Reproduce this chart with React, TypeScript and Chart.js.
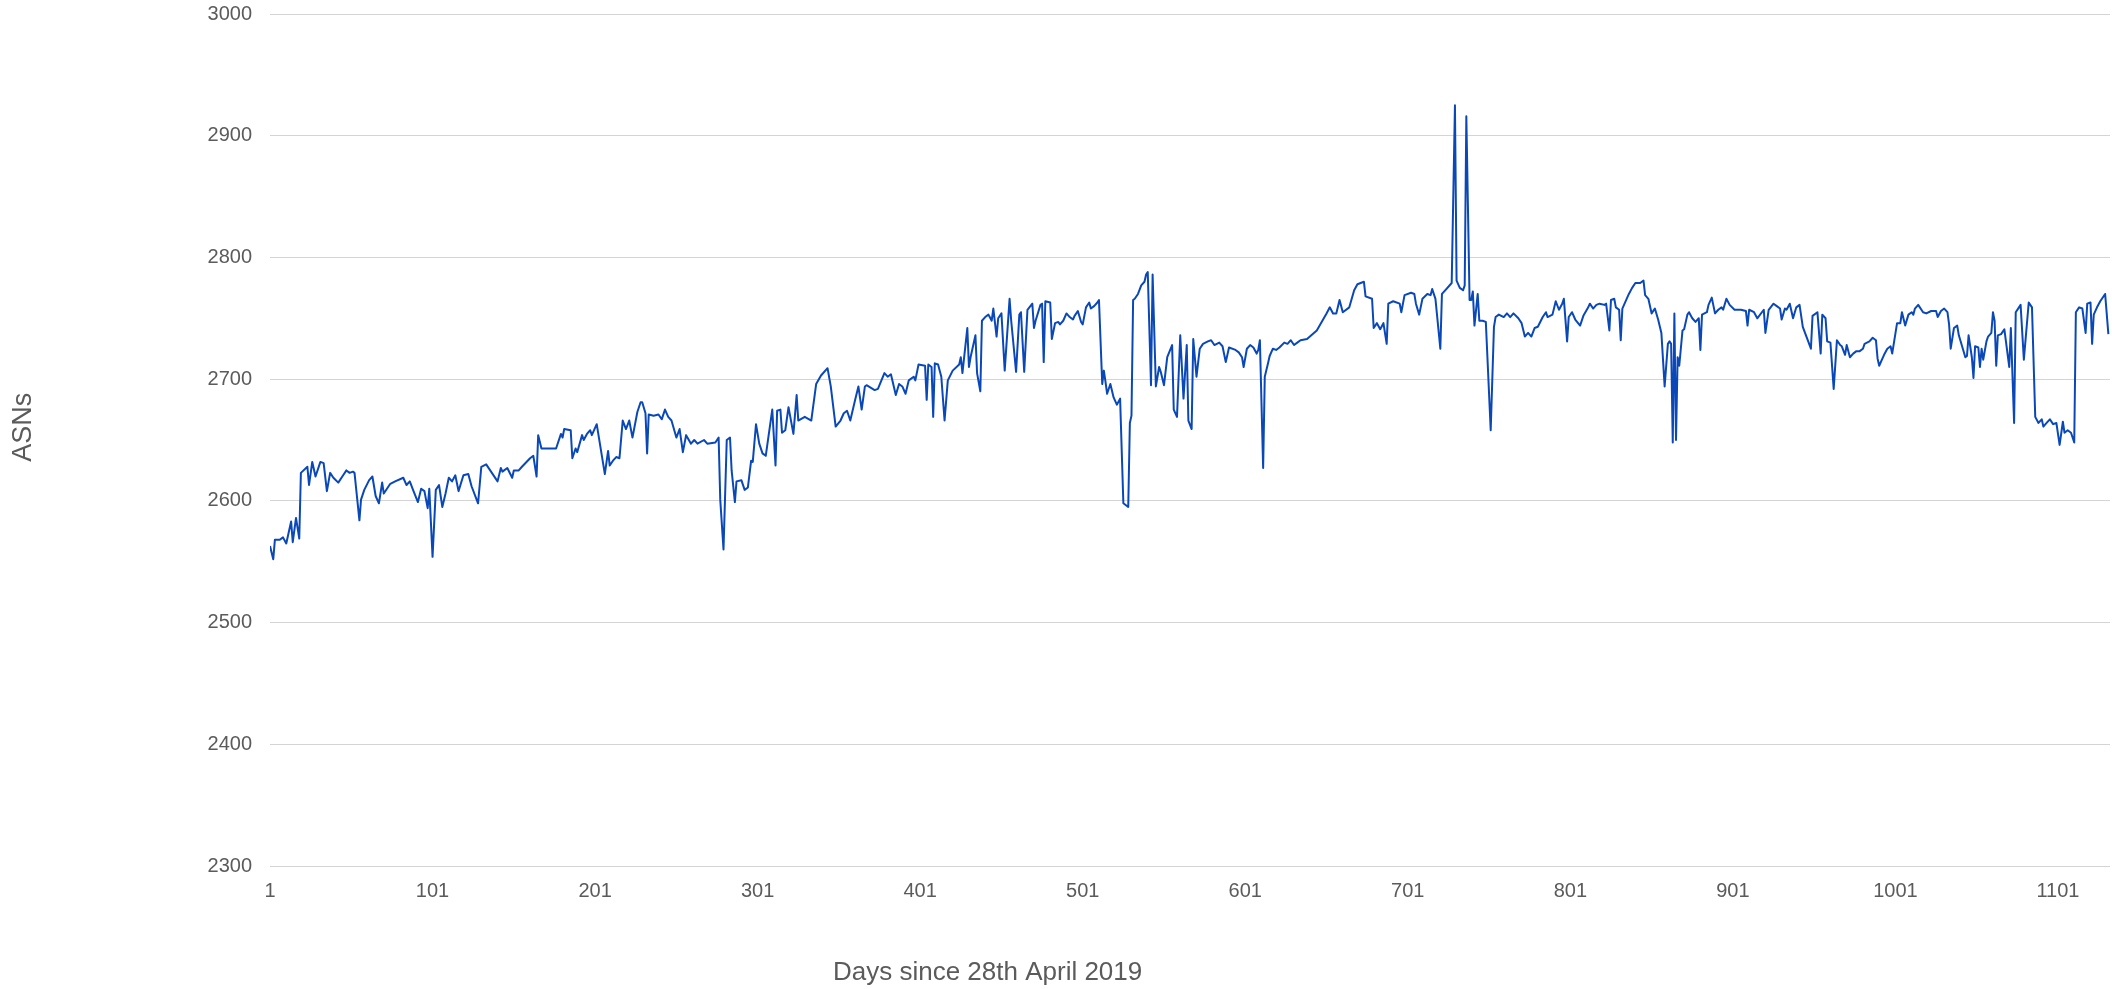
import { useEffect, useRef } from "react";
import { Chart, registerables } from "chart.js";

Chart.register(...registerables);

// ---- Data (day number, ASN count; null = gap) ----
const daysA = [1,3,4,7,9,11,14,15,17,19, 20,24,25,27,29,32,34,36,38,40, 43,46,48,50,52,53,56,57,59,62, 64,66,68,70,71,75,78,80,83,85, 87,89,92,94,96,98,99,101,103,105, 107,109,111,113,115,117,120,123,125,129, 131,134,137,141,143,144,147,150,151,154, 156,159,161];
const asnsA = [2563,2552,2568,2568,2570,2565,2583,2566,2586,2569, 2623,2628,2613,2632,2620,2632,2631,2608,2623,2619, 2615,2621,2625,2623,2624,2623,2584,2601,2609,2617, 2620,2604,2598,2615,2606,2614,2616,null,2619,2613, 2616,2609,2599,2610,2608,2594,2610,2554,2609,2613, 2595,2606,2619,2616,2621,2608,2621,2622,2612,2598, 2628,2630,null,2616,2627,2624,2627,2619,2625,2625, 2628,null,2635];

const daysB = [163,165,166,168,177,180,181,182,186,187, 189,190,193,194,196,198,199,202,203,207, 209,210,212,214,216,218,220,222,224,227, 229,230,232,233,234,237,240,242,244,246, 248,250,251,253,255,257,260,262,264,268, 270,271,275,277,278,280,282,284,285,287, 288,291,293,295,297,298,300,302,304,306, 307,310,312,313,315,316,318,320,323,325, 326];
const asnsB = [2637,2620,2654,2643,2643,2655,2652,2659,2658,2635, 2643,2640,2654,2650,2655,2658,2654,2663,null,2622, 2641,2629,2633,2636,2635,2666,2659,2666,2652,2673, 2681,2681,2672,2639,2671,2670,2671,2667,2675,2669, 2666,null,2652,2659,2640,2654,2647,2650,2647,2650, 2647,null,2648,2652,2601,2560,2650,2652,2625,2599, 2616,2617,2609,2611,2633,2632,2663,2647,2639,2637, null,2675,2629,2674,2675,2656,2658,2677,2655,2687, 2666];

const daysC = [330,334,337,340,344,346,349,352,354,356, 358,361,363,365,367,368,373,375,379,381, 383,386,388,390,392,394,397,398,400,404, 405,406,408,409,410,412,414,416,418,421, 425,426,427,430,431,432,435,436,438,439, 441,443,445,446,448,449,451,453,456,457, 460,462,463,465,467,470,471,472,475,476, 477,478,481,482,484,486];
const asnsC = [2669,2666,2696,2703,2709,2694,2661,2666,2672,2674, 2666,2683,2694,2675,2694,2695,2691,2692,2705,2702, 2704,2687,2696,2694,2688,2699,2702,2699,2712,2711, 2683,2712,2710,2669,2713,2712,2702,2666,2699,2707, 2712,2718,2705,2742,2710,2718,2736,2705,2690,2748, 2751,2753,2748,2758,2735,2750,2754,2707,2766,2748, 2706,2753,2755,2706,2757,2762,2742,2748,2761,2762, 2714,2764,2763,2733,2746,2747];

const daysD = [487,489,491,493,495,496,498,500,501,503, 505,506,508,510,511,512,513,514,515,516, 518,520,522,524,525,526,529,530,531,532, 533,535,537,539,540,541,542,543,544,546, 548,549,551,553,556,557,559,561,563,565, 566,568,569,571,573,575,578,580,582,585, 587,589,591,593,595,597,599,600,602,604, 606,608,609,610,611,612,613,615,616,618, 620,622,625,627,629,631,633,635,639,642, 645,648,651];
const asnsD = [2745,2748,2754,2751,2749,2752,2756,2747,2745,2759, 2763,2758,2760,2763,2765,null,2696,2707,2698,2688, 2696,2685,2679,2684,null,2598,2595,2664,2670,2765, 2766,2770,2777,2780,2786,2788,null,2695,2786,2694, 2710,2706,2695,2718,2728,2675,2669,2736,2684,2728, 2666,2659,2733,2702,2725,2729,2731,2732,2728,2730, 2727,2714,2726,null,2724,2722,2718,2710,2725,2728, 2726,2721,2724,2732,null,2627,2702,2713,2719,2725, 2724,2726,2730,2729,2732,2728,2730,2732,2733,null, 2740,2747,2754];

const daysE = [653,655,657,659,661,662,665,668,670,672, 674,675,679,680,682,684,686,688,689,692, 694,696,697,699,703,705,706,708,710,713, 715,716,718,721,722,724,726,728,730,731, 733,735,736,737,739,740,741,742,744,745, 747,749,750,752,754,755,757,760,762,764, 766,767,769,771,773,775,777,779,781,784, 786,787,790,792,794,796,797,798,799,800, 802,804,807,809,812];
const asnsE = [2759,2754,2754,2765,2755,null,2759,2773,2778,2779, 2780,2768,2766,2742,2746,2741,2746,2729,2762,2764, null,2762,2755,2769,2771,2770,2762,2753,2766,2770, 2769,2774,2766,2725,2770,2773,null,2779,2925,2781, 2775,2773,2777,2916,2765,2765,2772,2744,2770,2748, 2748,2747,null,2658,2743,2751,2753,2751,2754,2751, 2754,null,2750,2746,2735,2738,2735,2742,2743,2751, 2755,2751,2753,2764,2757,2762,2766,null,2731,2751, 2755,2749,2744,2752,2759];

const daysF = [813,815,817,819,822,823,825,826,828,829, 831,832,833,834,837,839,841,844,846,847, 849,851,853,855,857,859,861,862,863,864, 865,866,867,868,870,871,873,874,876,878, 880,881,882,885,886,888,890,892,894,895, 897,899,900,902,906,909,910,911,914,916, 918,920,921,923,926,928,930,931,933,934, 936,938,940,942,944,947,949,950,953,955, 956,958,959,961,963,965,967,968,970,971, 973,975,977];
const asnsF = [2762,2758,2761,2762,2761,2762,2740,2765,2766,2759, 2757,2732,2758,null,2770,2775,2779,2779,2781,2769, 2766,2754,2758,2749,2738,2694,2729,2731,2729,2648, 2754,2650,2718,2711,2740,2741,2753,2755,2750,2747, 2750,2724,2753,2755,2761,2767,2754,2757,2759,2757, 2766,2761,null,2757,2757,2756,2744,2757,2755,2750, null,2757,2738,2757,2762,2760,2758,2749,2758,2757, 2762,2750,2759,2761,2743,null,2725,2752,2755,2721, 2753,2750,2731,2730,2692,2732,2728,2727,2720,2728, 2718,2721,2723];

const daysG = [979,981,982,985,987,989,990,991,994,996, 998,999,1001,1002,1004,1005,1007,1009,1011,1012, 1013,1015,1016,1018,1020,1023,1024,1026,1027,1029, 1031,1033,1034,1035,1037,1039,1040,1042,1044,1045, 1046,1048,1049,1050,1052,1053,1054,1055,1057,1058, 1060,1061,1062,1063,1064,1066,1068,1070,1071,1072, 1074,1075,1077,1078,1079,1080,1083,1085,1087,1089, 1091,1092,1094,1096,1098,1100,1102,1104,1105,1107, 1109,1111,1112,1114,1116,1118,1119,1121,1122,1123, 1125,1127,1128,1130,1132];
const asnsG = [2723,2725,2729,2731,2734,2732,2717,2711,2720,2725, 2727,2721,null,2746,2746,2755,2744,2753,2755,2753, 2758,2761,null,2755,2754,2756,null,2756,2751,2756, 2758,2755,2745,2725,2742,2744,2736,null,2718,2719, 2736,2718,2701,2727,2726,2710,2725,2716,2731,2735, 2738,2755,2748,2711,2736,2737,2741,null,2710,2742, 2664,2755,2759,2761,null,2716,2763,2759,2669,2664, 2667,2661,2664,2667,2663,2664,2646,2665,2656,2658, 2656,2648,2755,2759,2758,2738,2762,2763,2729,2753, 2759,2764,null,2770,2737];

const xTicks = [1, 101, 201, 301, 401, 501, 601, 701, 801, 901, 1001, 1101];
const xMin = 1;
const xMax = 1133;
const yMin = 2300;
const yMax = 3000;
const yStep = 100;
const xTitle = "Days since 28th April 2019";
const yTitle = "ASNs";

const days: number[] = [...daysA, ...daysB, ...daysC, ...daysD, ...daysE, ...daysF, ...daysG];
const asns: (number | null)[] = [...asnsA, ...asnsB, ...asnsC, ...asnsD, ...asnsE, ...asnsF, ...asnsG];

const FONT = "'Liberation Sans', Arial, Helvetica, sans-serif";
const TEXT = "#5b5b5b";
const LINE = "#0a48b8";
const LINE_LIGHT = "rgba(40, 100, 210, 0.35)";

export default function App() {
  const ref = useRef<HTMLCanvasElement | null>(null);

  useEffect(() => {
    document.body.style.margin = "0";
    if (!ref.current) return;
    const points = days.map((d, i) => ({ x: d, y: asns[i] }));

    const axisTitles = {
      id: "axisTitles",
      afterDraw(chart: any) {
        const { ctx, chartArea: a } = chart;
        ctx.save();
        ctx.fillStyle = TEXT;
        ctx.textAlign = "center";
        ctx.textBaseline = "alphabetic";
        ctx.font = `26px ${FONT}`;
        ctx.fillText(xTitle, a.left + (a.right - a.left) * 0.39, a.bottom + 114);
        ctx.translate(31, a.top + (a.bottom - a.top) * 0.485);
        ctx.rotate(-Math.PI / 2);
        ctx.font = `27px ${FONT}`;
        ctx.fillText(yTitle, 0, 0);
        ctx.restore();
      },
    };

    const isGap = (c: any) => c.p1DataIndex - c.p0DataIndex > 1;

    const chart = new Chart(ref.current, {
      type: "line",
      data: {
        datasets: [
          {
            label: yTitle,
            data: points as any,
            borderColor: LINE,
            borderWidth: 2,
            pointRadius: 0,
            pointHoverRadius: 0,
            tension: 0,
            spanGaps: true,
            borderJoinStyle: "round",
            fill: false,
            segment: {
              borderColor: (c: any) => (isGap(c) ? LINE_LIGHT : undefined),
              borderWidth: (c: any) => (isGap(c) ? 1 : undefined),
            },
          } as any,
        ],
      },
      options: {
        animation: false,
        responsive: true,
        maintainAspectRatio: false,
        layout: { padding: { top: 14, right: 2, left: 0, bottom: 0 } },
        plugins: {
          legend: { display: false },
          tooltip: { enabled: false },
          title: { display: false },
        },
        scales: {
          x: {
            type: "linear",
            min: xMin,
            max: xMax,
            afterBuildTicks: (axis: any) => {
              axis.ticks = xTicks.map((value) => ({ value }));
            },
            afterFit: (axis: any) => {
              axis.height = 123;
            },
            grid: { display: false, drawTicks: false },
            border: { display: false },
            ticks: {
              autoSkip: false,
              maxRotation: 0,
              padding: 13,
              color: TEXT,
              font: { family: FONT, size: 20 },
              callback: (v: any) => String(v),
            },
          },
          y: {
            type: "linear",
            min: yMin,
            max: yMax,
            afterFit: (axis: any) => {
              axis.width = 270;
            },
            grid: {
              color: "#d4d4d4",
              lineWidth: 1,
              drawTicks: true,
              tickLength: 18,
              tickColor: "rgba(0,0,0,0)",
            },
            border: { display: false },
            ticks: {
              stepSize: yStep,
              padding: 0,
              color: TEXT,
              font: { family: FONT, size: 20 },
              callback: (v: any) => String(v),
            },
          },
        },
      },
      plugins: [axisTitles],
    });
    return () => chart.destroy();
  }, []);

  return (
    <div style={{ position: "absolute", left: 0, top: 0, width: 2112, height: 989 }}>
      <canvas ref={ref} />
    </div>
  );
}
